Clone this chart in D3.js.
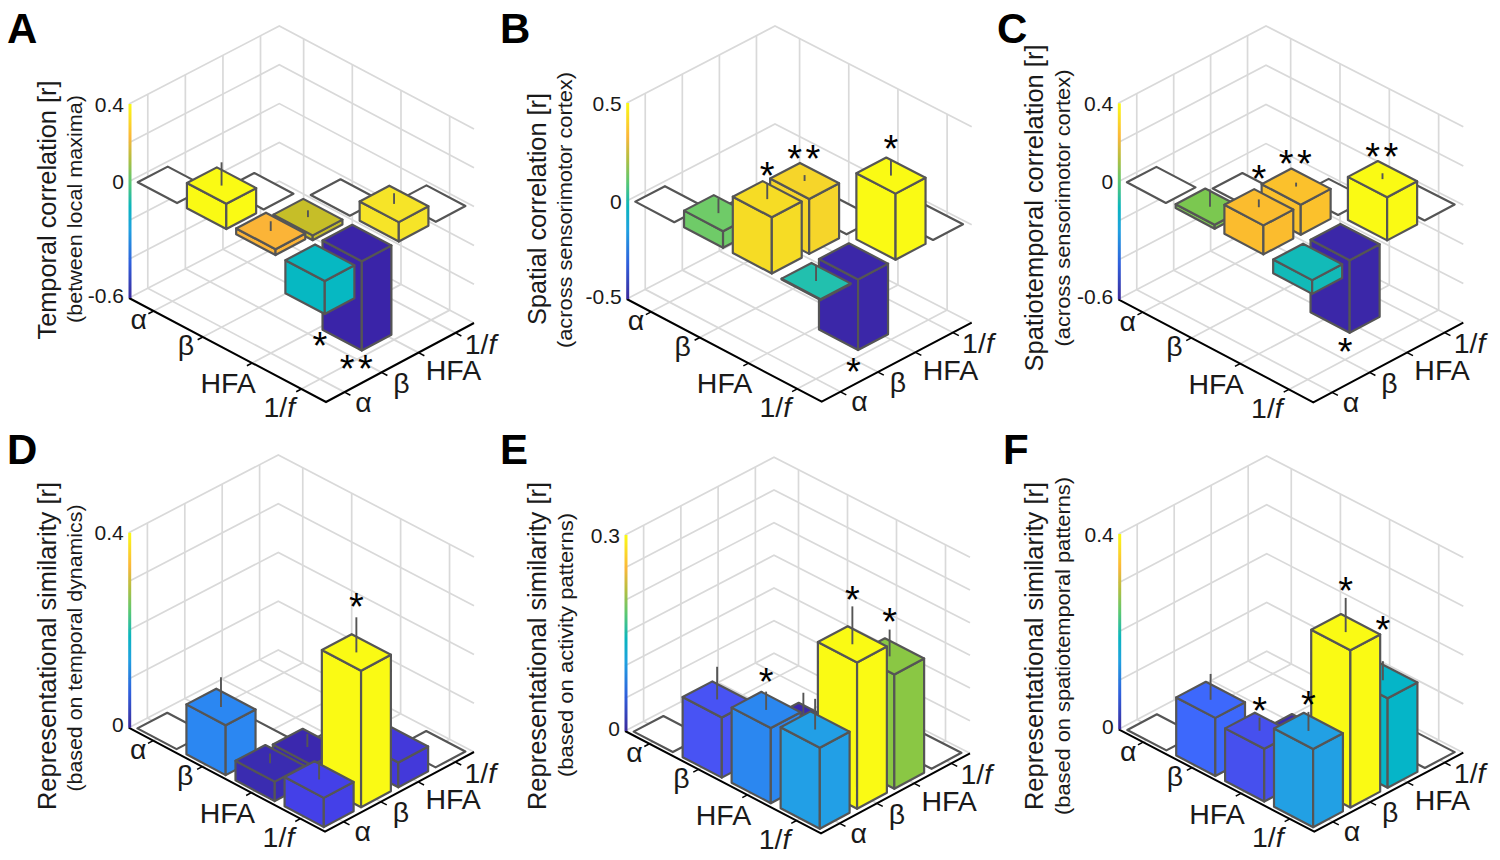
<!DOCTYPE html>
<html><head><meta charset="utf-8">
<style>html,body{margin:0;padding:0;background:#fff}svg{display:block}text{font-family:"Liberation Sans",Arial,sans-serif;fill:#1a1a1a}</style>
<script src="https://cdn.jsdelivr.net/npm/d3@7"></script>
</head><body><svg id="c" width="1500" height="860"></svg>
<script>
const bands = ["α","β","HFA","1/f"];
const diagonal = [1,2,3,4];
const cellU = [2,3,3,4,4,4];
const cellV = [1,1,2,1,2,3];

const valuesA = [0.13,0.03,-0.025,-0.17,-0.46,0.10];
const valuesB = [0.085,0.287,0.28,-0.005,-0.36,0.337];
const valuesC = [0.02,0.148,0.153,-0.07,-0.37,0.22];
const valuesD = [0.1025,0.04,0.033,0.06,0.28,0.051];
const valuesE = [0.092,0.115,0.068,0.124,0.224,0.175];
const valuesF = [0.119,0.108,0.065,0.16,0.322,0.183];

const errorsA = [0.12,0.05,0.035,0,0,0.055];
const errorsB = [0.075,0.08,0.03,0.08,0,0.08];
const errorsC = [0.087,0.04,0.02,0,0,0.03];
const errorsD = [0.061,0.02,0.027,0.035,0.072,0];
const errorsE = [0.05,0.028,0.043,0.047,0.058,0.041];
const errorsF = [0.053,0.027,0,0.039,0.07,0.039];

const colorsA = ["#FAFA14","#FBB437","#C6BE28","#06B8C2","#3A24A8","#F6E428"];
const colorsB = ["#6FCB68","#F6DC25","#F6D52A","#22C0AE","#3B27A8","#FAFA14"];
const colorsC = ["#7BC850","#FBBC2E","#FBC12C","#12BAB8","#3B27A8","#FAFA14"];
const colorsD = ["#2B87F2","#3A2CB0","#3B28AE","#4440E8","#FAFA14","#4339DA"];
const colorsE = ["#4853F4","#2B87F0","#3B28AE","#229FE6","#FAFA14","#8AC744"];
const colorsF = ["#3D68FC","#4650EE","#3B2AB0","#22A0E4","#FAFA14","#05B5C8"];

// significance stars: bar index, count, level on the z scale
const starsA = [[3,1,-0.40],[4,2,-0.62]];
const starsB = [[1,1,0.434],[2,2,0.421],[5,1,0.497],[4,1,-0.536]];
const starsC = [[1,1,0.321],[2,2,0.297],[5,2,0.358],[4,1,-0.536]];
const starsD = [[4,1,0.383]];
const starsE = [[1,1,0.165],[4,1,0.30],[5,1,0.235]];
const starsF = [[1,1,0.16],[3,1,0.223],[4,1,0.416],[5,1,0.296]];

const ticksA = [-0.6,-0.4,-0.2,0,0.2,0.4], labelsA = [-0.6,0,0.4];
const ticksB = [-0.5,0,0.5], labelsB = [-0.5,0,0.5];
const ticksD = [0,0.1,0.2,0.3,0.4], labelsD = [0,0.4];
const ticksE = [0,0.05,0.1,0.15,0.2,0.25,0.3], labelsE = [0,0.3];

const panels = [
 {id:"A",lx:7,ly:43,L:[129,298],F:[326,402],R:[474,323],B:[279.3,220],top:104,zd:[-0.6,0.4],zt:ticksA,zl:labelsA,val:valuesA,err:errorsA,col:colorsA,st:starsA,
  t:"Temporal correlation [r]",tx:56,ty:210,tl:259,s:"(between local maxima)",sx:82,sy:209,sl:228},
 {id:"B",lx:500,ly:43,L:[626.7,299],F:[821.7,401.7],R:[971.7,322.7],B:[775,222],top:103,zd:[-0.5,0.5],zt:ticksB,zl:labelsB,val:valuesB,err:errorsB,col:colorsB,st:starsB,
  t:"Spatial correlation [r]",tx:546,ty:209,tl:232,s:"(across sensorimotor cortex)",sx:572,sy:210,sl:276},
 {id:"C",lx:997,ly:43,L:[1118.3,299.3],F:[1313.3,402.3],R:[1463.3,322.7],B:[1266,222],top:103.3,zd:[-0.6,0.4],zt:ticksA,zl:labelsA,val:valuesC,err:errorsC,col:colorsC,st:starsC,
  t:"Spatiotemporal correlation [r]",tx:1043,ty:208,tl:327,s:"(across sensorimotor cortex)",sx:1070,sy:208,sl:277},
 {id:"D",lx:7,ly:464,L:[128.7,727.7],F:[325,831.7],R:[474,752],B:[278.3,650],top:532.7,zd:[0,0.4],zt:ticksD,zl:labelsD,val:valuesD,err:errorsD,col:colorsD,st:starsD,
  t:"Representational similarity [r]",tx:56,ty:646,tl:328,s:"(based on temporal dynamics)",sx:82,sy:648,sl:287},
 {id:"E",lx:500,ly:464,L:[625,731],F:[821,833.3],R:[970,753.3],B:[774,653.3],top:535,zd:[0,0.3],zt:ticksE,zl:labelsE,val:valuesE,err:errorsE,col:colorsE,st:starsE,
  t:"Representational similarity [r]",tx:546,ty:646,tl:328,s:"(based on activity patterns)",sx:573,sy:645,sl:264},
 {id:"F",lx:1003,ly:464,L:[1118.7,729.3],F:[1314.3,831.7],R:[1463.3,752.7],B:[1266.7,651.3],top:534,zd:[0,0.4],zt:ticksD,zl:labelsD,val:valuesF,err:errorsF,col:colorsF,st:starsF,
  t:"Representational similarity [r]",tx:1043,ty:646,tl:328,s:"(based on spatiotemporal patterns)",sx:1070,sy:646,sl:338}
];

const svg = d3.select("#c");
const gridCol="#d9d9d9", edgeCol="#555555";
const stops=[[0,"#3A2A9C"],[0.18,"#2F5FDC"],[0.35,"#1FA0E0"],[0.47,"#0AB5BE"],[0.6,"#5CC870"],[0.72,"#B5BE40"],[0.83,"#FBB73A"],[1,"#FAFA14"]];
const grad=svg.append("defs").append("linearGradient").attr("id","cb").attr("x1",0).attr("x2",0).attr("y1",1).attr("y2",0);
stops.forEach(s=>grad.append("stop").attr("offset",s[0]).attr("stop-color",s[1]));

const halfWidth=0.4;
const bandSize=28.5, starSize=38;
const labelOffL=[[-15,11],[-17,11],[-24,20],[-22,18]];
const labelOffR=[[19,12],[20,13],[35,17],[25,10.5]];
const labelDy=[0.26,0.26,0.36,0.36];

panels.forEach(p=>{
  const g=svg.append("g");
  const su=d3.scaleLinear().domain([0.5,4.5]).range([0,1]);
  const sv=d3.scaleLinear().domain([0.5,4.5]).range([0,1]);
  const sz=d3.scaleLinear().domain(p.zd).range([0,p.top-p.L[1]]);
  const P=(u,v,z)=>{
    const s=su(u),t=sv(v);
    const mix=k=>(1-s)*(1-t)*p.L[k]+s*(1-t)*p.F[k]+s*t*p.R[k]+(1-s)*t*p.B[k];
    return [mix(0),mix(1)+sz(z===undefined?p.zd[0]:z)];
  };
  const line=d3.line();
  const seg=(a,b,col,w)=>g.append("path").attr("d",line([a,b])).attr("stroke",col).attr("stroke-width",w).attr("fill","none");
  const [z0,z1]=p.zd;
  // walls
  p.zt.forEach(z=>{
    g.append("path").attr("d",line([P(0.5,0.5,z),P(0.5,4.5,z),P(4.5,4.5,z)])).attr("fill","none").attr("stroke",gridCol).attr("stroke-width",1.7);
  });
  d3.range(1,5).forEach(i=>{
    seg(P(0.5,i,z0),P(0.5,i,z1),gridCol,1.7);
    seg(P(i,4.5,z0),P(i,4.5,z1),gridCol,1.7);
    seg(P(i,0.5,z0),P(i,4.5,z0),gridCol,1.7);
    seg(P(0.5,i,z0),P(4.5,i,z0),gridCol,1.7);
  });
  // axes
  g.append("path").attr("d",line([P(0.5,0.5),P(4.5,0.5),P(4.5,4.5)])).attr("fill","none").attr("stroke","#000").attr("stroke-width",2);
  d3.range(1,5).forEach(i=>{
    seg(P(i,0.5),P(i,0.36),"#000",1.5);
    seg(P(4.5,i),P(4.62,i),"#000",1.5);
  });
  // colour bar
  g.append("rect").attr("x",p.L[0]-0.5).attr("width",3).attr("y",p.top).attr("height",p.L[1]-p.top).attr("fill","url(#cb)");
  // z labels
  p.zl.forEach((z,i)=>{
    g.append("text").attr("x",p.L[0]-5).attr("y",p.L[1]+sz(z)+(z===z0?-3:0)+7.5).attr("text-anchor","end").attr("font-size",21).text(z);
  });
  // band labels
  const band=(pt,off,i)=>{
    const t=g.append("text").attr("x",pt[0]+off[0]).attr("y",pt[1]+off[1]+bandSize*labelDy[i]).attr("text-anchor","middle").attr("font-size",bandSize);
    if(i===3){t.append("tspan").text("1/");t.append("tspan").attr("font-style","italic").text("f");}
    else t.text(bands[i]);
  };
  d3.range(4).forEach(i=>{
    band(P(i+1,0.5),labelOffL[i],i);
    band(P(4.5,i+1),labelOffR[i],i);
  });
  // bars, painter order from the back corner
  const items=[];
  diagonal.forEach(d=>items.push({u:d,v:d,val:0,err:0,col:"#fff"}));
  cellU.forEach((u,i)=>items.push({u,v:cellV[i],val:p.val[i],err:p.err[i],col:p.col[i]}));
  items.sort((a,b)=>(a.u-a.v)-(b.u-b.v));
  items.forEach(b=>{
    const a=b.u-halfWidth,c=b.u+halfWidth,d=b.v-halfWidth,e=b.v+halfWidth;
    const zt=Math.max(b.val,0), zb=Math.min(b.val,0);
    const poly=pts=>g.append("path").attr("d",line(pts)+"Z").attr("fill",b.col).attr("stroke",edgeCol).attr("stroke-width",2.2).attr("stroke-linejoin","round");
    if(b.val!==0){
      poly([P(a,d,zt),P(c,d,zt),P(c,d,zb),P(a,d,zb)]);
      poly([P(c,d,zt),P(c,e,zt),P(c,e,zb),P(c,d,zb)]);
    }
    poly([P(a,d,zt),P(c,d,zt),P(c,e,zt),P(a,e,zt)]);
    if(b.err>0) seg(P(b.u,b.v,zt),P(b.u,b.v,zt+b.err),edgeCol,1.9);
  });
  // stars
  p.st.forEach(s=>{
    const pt=P(cellU[s[0]],cellV[s[0]],s[2]);
    g.append("text").attr("x",pt[0]+(s[1]>1?1:0)).attr("y",pt[1]+starSize*0.48).attr("text-anchor","middle").attr("font-size",starSize)
      .attr("letter-spacing",s[1]>1?3.5:0).style("fill","#000").text("*".repeat(s[1]));
  });
  // titles
  const rot=(x,y,txt,len,fs)=>g.append("text").attr("transform",`translate(${x},${y}) rotate(-90)`).attr("text-anchor","middle").attr("font-size",fs)
     .attr("textLength",len).attr("lengthAdjust","spacingAndGlyphs").text(txt);
  rot(p.tx,p.ty,p.t,p.tl,26.5);
  rot(p.sx,p.sy,p.s,p.sl,20);
  g.append("text").attr("x",p.lx).attr("y",p.ly).attr("font-size",42).attr("font-weight","bold").style("fill","#000").text(p.id);
});
</script></body></html>
